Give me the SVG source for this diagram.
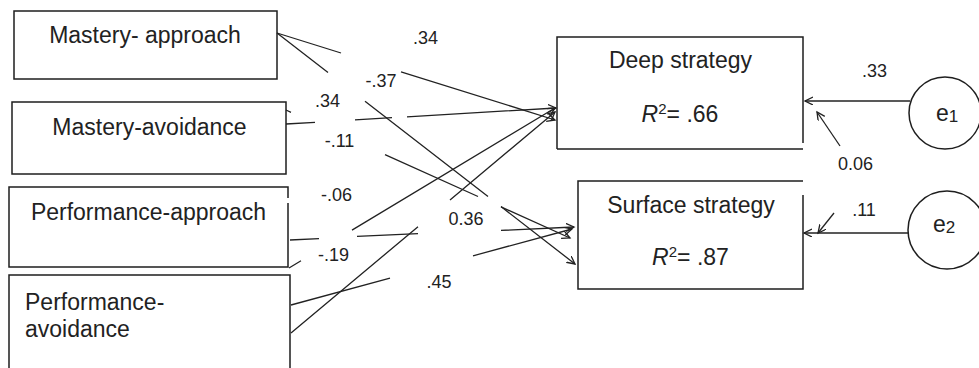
<svg xmlns="http://www.w3.org/2000/svg" width="979" height="368" viewBox="0 0 979 368">
<style>
.box{fill:none;stroke:#1e1e1e;stroke-width:1.5}
.ln{fill:none;stroke:#222;stroke-width:1.3}
.t{font-family:"Liberation Sans",Arial,sans-serif;font-size:23px;fill:#222}
.c{font-family:"Liberation Sans",Arial,sans-serif;font-size:18px;fill:#222}
.m{text-anchor:middle}
</style>
<defs>
<marker id="ar" markerUnits="userSpaceOnUse" markerWidth="10" markerHeight="10" refX="8" refY="4" orient="auto">
<path d="M0,0 L8,4 L0,8" fill="none" stroke="#222" stroke-width="1.3"/>
</marker>
</defs>
<rect width="979" height="368" fill="#fff"/>
<g id="mastery-approach">
<rect class="box" x="14" y="11" width="263" height="68"/>
<text class="t m" x="145" y="43">Mastery- approach</text>
</g>
<g id="mastery-avoidance">
<rect class="box" x="12" y="102" width="274" height="72"/>
<text class="t m" x="149.5" y="135">Mastery-avoidance</text>
</g>
<g id="performance-approach">
<path class="box" d="M288,203 V267 H9 V187 H288 V198"/>
<text class="t m" x="148.5" y="220">Performance-approach</text>
</g>
<g id="performance-avoidance">
<path class="box" d="M9,370 V275 H290 V370"/>
<text class="t" x="25" y="310">Performance-</text>
<text class="t" x="25" y="337">avoidance</text>
</g>
<g id="deep-strategy">
<path class="box" d="M557,149 V37 H803 V143 M803,149 H557"/>
<text class="t m" x="680.5" y="68">Deep strategy</text>
<text class="t m" x="680" y="122"><tspan font-style="italic">R</tspan><tspan font-size="15" dy="-8">2</tspan><tspan dy="8">= .66</tspan></text>
</g>
<g id="surface-strategy">
<path class="box" d="M803,195 V289 H578 V181 H803"/>
<text class="t m" x="691" y="213">Surface strategy</text>
<text class="t m" x="690.5" y="265"><tspan font-style="italic">R</tspan><tspan font-size="15" dy="-8">2</tspan><tspan dy="8">= .87</tspan></text>
</g>
<g id="e1">
<circle class="box" cx="945" cy="113" r="36"/>
<text class="t" x="936" y="121">e<tspan font-size="17" dy="1">1</tspan></text>
</g>
<g id="e2">
<circle class="box" cx="947" cy="230" r="39"/>
<text class="t" x="933" y="232">e<tspan font-size="17" dy="1">2</tspan></text>
</g>
<g id="connectors">
<path class="ln" marker-end="url(#ar)" d="M277,33 L341,53 M401,71.8 L555,120"/>
<path class="ln" marker-end="url(#ar)" d="M277,33 L328,72.5 M365,101.2 L488,196.5 M501,206.6 L575,264"/>
<path class="ln" marker-end="url(#ar)" d="M286,124 L315,122.3 M355,119.9 L392,117.7 M407,116.8 L556,108"/>
<path class="ln" marker-end="url(#ar)" d="M286,110 L291,112.3 M385,154.6 L478,196.5 M501,206.9 L570,238"/>
<path class="ln" marker-end="url(#ar)" d="M289,268 L301,260.8 M352,230.1 L555,108"/>
<path class="ln" marker-end="url(#ar)" d="M291,333 L418,226.7 M450,199.9 L555,112"/>
<path class="ln" marker-end="url(#ar)" d="M290,240 L319,238.7 M357,236.3 L418,233.6 M501,230.4 L574,227"/>
<path class="ln" marker-end="url(#ar)" d="M291,305 L390,278.2 M473,255.8 L572,229"/>
<path class="ln" marker-end="url(#ar)" d="M910,101 L805,101"/>
<path class="ln" marker-end="url(#ar)" d="M840,146 L817,112"/>
<path class="ln" marker-end="url(#ar)" d="M908,233 L804,233"/>
<path class="ln" marker-end="url(#ar)" d="M834,213 L818,233"/>
</g>
<g id="labels">
<text class="c m" x="425.5" y="44">.34</text>
<text class="c m" x="381" y="87">-.37</text>
<text class="c m" x="327.5" y="107">.34</text>
<text class="c m" x="339.5" y="147">-.11</text>
<text class="c m" x="336.5" y="201">-.06</text>
<text class="c m" x="466" y="225">0.36</text>
<text class="c m" x="333.5" y="261">-.19</text>
<text class="c m" x="439" y="288">.45</text>
<text class="c m" x="874.5" y="77">.33</text>
<text class="c m" x="855.5" y="170">0.06</text>
<text class="c m" x="864" y="216">.11</text>
</g>
</svg>
